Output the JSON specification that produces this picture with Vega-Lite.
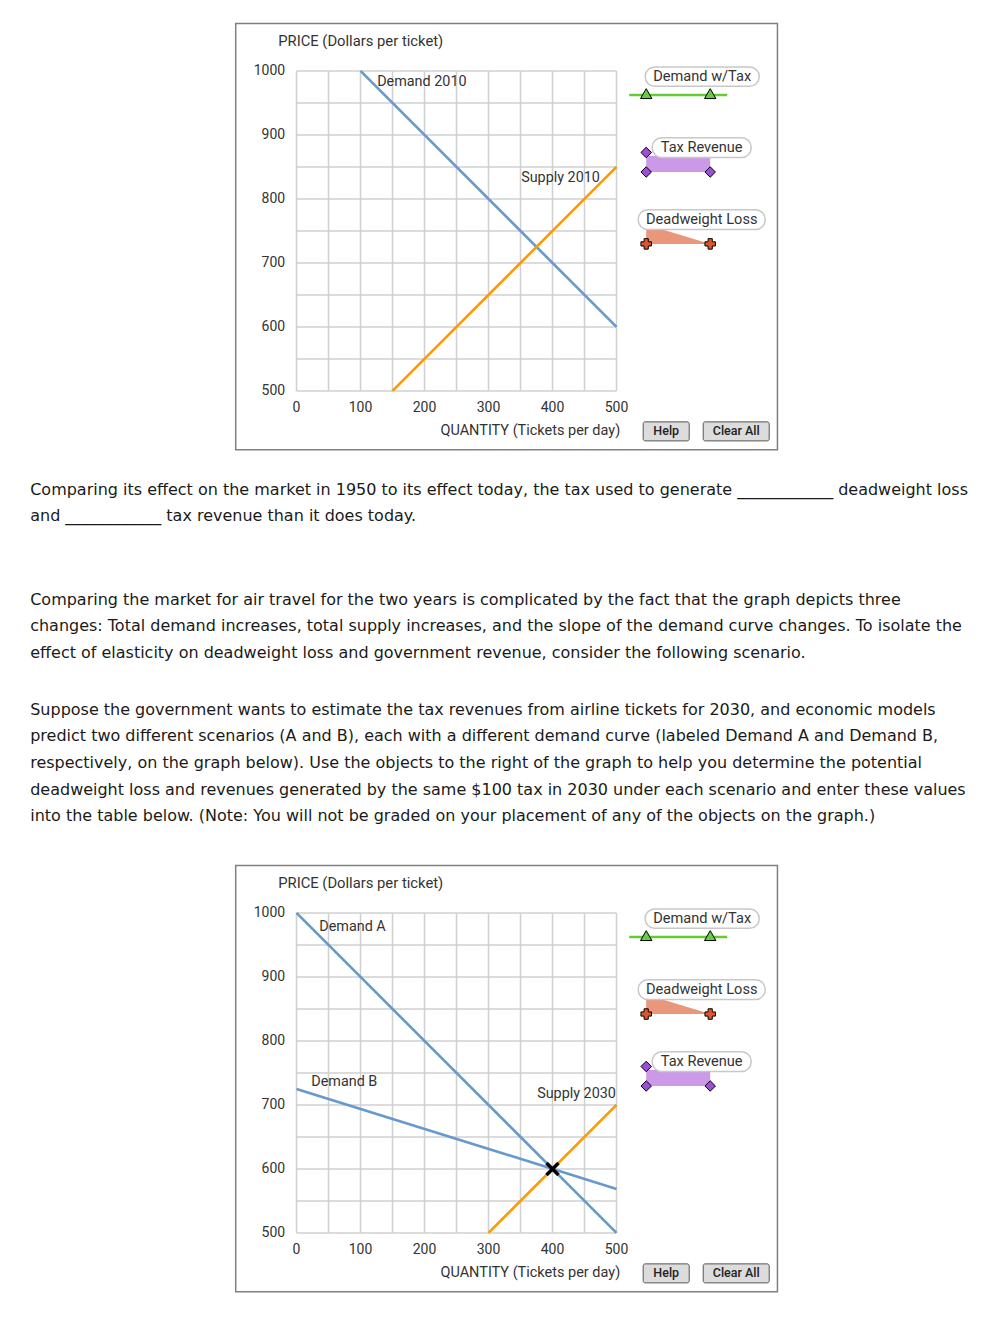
{
  "$schema": "https://vega.github.io/schema/vega-lite/v6.json",
  "background": "white",
  "padding": {"left": 30, "top": 21.9, "right": 0, "bottom": 0},
  "bounds": "flush",
  "center": true,
  "spacing": 86,
  "config": {"view": {"stroke": null}},
  "datasets": {
    "qgrid": [{"q": 0}, {"q": 50}, {"q": 100}, {"q": 150}, {"q": 200}, {"q": 250}, {"q": 300}, {"q": 350}, {"q": 400}, {"q": 450}, {"q": 500}],
    "pgrid": [{"price": 500}, {"price": 550}, {"price": 600}, {"price": 650}, {"price": 700}, {"price": 750}, {"price": 800}, {"price": 850}, {"price": 900}, {"price": 950}, {"price": 1000}],
    "qticks": [{"q": 0}, {"q": 100}, {"q": 200}, {"q": 300}, {"q": 400}, {"q": 500}],
    "pticks": [{"price": 500}, {"price": 600}, {"price": 700}, {"price": 800}, {"price": 900}, {"price": 1000}]
  },
  "vconcat": [
    {
      "width": 320,
      "height": 320,
      "data": {"values": [{}]},
      "layer": [
        {"mark": {"type": "rect", "fillOpacity": 0, "stroke": "#808080", "strokeWidth": 1.5},
         "encoding": {"x": {"datum": -95, "axis": null}, "x2": {"datum": 751.5}, "y": {"datum": 1074, "axis": null}, "y2": {"datum": 408}}},
        {"data": {"name": "qgrid"}, "mark": {"type": "rule", "color": "#d0d0d0", "strokeWidth": 1.5},
         "encoding": {"x": {"field": "q", "type": "quantitative", "axis": null}, "y": {"datum": 500, "axis": null}, "y2": {"datum": 1000}}},
        {"data": {"name": "pgrid"}, "mark": {"type": "rule", "color": "#d0d0d0", "strokeWidth": 1.5},
         "encoding": {"y": {"field": "price", "type": "quantitative", "axis": null}, "x": {"datum": 0, "axis": null}, "x2": {"datum": 500}}},
        {"data": {"name": "qticks"}, "mark": {"type": "text", "align": "center", "baseline": "middle", "font": "Roboto", "fontSize": 14, "color": "#333"},
         "encoding": {"x": {"field": "q", "type": "quantitative", "axis": null}, "y": {"datum": 473.4, "axis": null}, "text": {"field": "q", "type": "quantitative", "format": "d"}}},
        {"data": {"name": "pticks"}, "mark": {"type": "text", "align": "right", "baseline": "middle", "font": "Roboto", "fontSize": 14, "color": "#333"},
         "encoding": {"y": {"field": "price", "type": "quantitative", "axis": null}, "x": {"datum": -17.7, "axis": null}, "text": {"field": "price", "type": "quantitative", "format": "d"}}},
        {"mark": {"type": "text", "align": "left", "baseline": "middle", "font": "Roboto", "fontSize": 14.8, "color": "#333"},
         "encoding": {"x": {"datum": -28.6, "axis": null}, "y": {"datum": 1045.3, "axis": null}, "text": {"value": "PRICE (Dollars per ticket)"}}},
        {"mark": {"type": "text", "align": "right", "baseline": "middle", "font": "Roboto", "fontSize": 14.5, "color": "#333"},
         "encoding": {"x": {"datum": 505.8, "axis": null}, "y": {"datum": 437.5, "axis": null}, "text": {"value": "QUANTITY (Tickets per day)"}}},
        {"data": {"values": [
          {"series": "Demand 2010", "curve": "Demand", "q": 100, "price": 1000},
          {"series": "Demand 2010", "curve": "Demand", "q": 500, "price": 600},
          {"series": "Supply 2010", "curve": "Supply", "q": 150, "price": 500},
          {"series": "Supply 2010", "curve": "Supply", "q": 500, "price": 850}
        ]},
         "mark": {"type": "line", "strokeWidth": 2.6},
         "encoding": {
           "x": {"field": "q", "type": "quantitative", "scale": {"domain": [0, 500], "nice": false, "zero": false}, "axis": null},
           "y": {"field": "price", "type": "quantitative", "scale": {"domain": [500, 1000], "nice": false, "zero": false}, "axis": null},
           "color": {"field": "curve", "type": "nominal", "scale": {"domain": ["Demand", "Supply"], "range": ["#6699cc", "#ff9900"]}, "legend": null},
           "detail": {"field": "series"}
         }},
        {"mark": {"type": "text", "align": "left", "baseline": "middle", "font": "Roboto", "fontSize": 14.4, "color": "#333"},
         "encoding": {"x": {"datum": 126, "axis": null}, "y": {"datum": 982.8, "axis": null}, "text": {"value": "Demand 2010"}}},
        {"mark": {"type": "text", "align": "left", "baseline": "middle", "font": "Roboto", "fontSize": 14.4, "color": "#333"},
         "encoding": {"x": {"datum": 351, "axis": null}, "y": {"datum": 832.8, "axis": null}, "text": {"value": "Supply 2010"}}},

        {"mark": {"type": "rule", "color": "#66cc33", "strokeWidth": 2.5},
         "encoding": {"x": {"datum": 519.8, "axis": null}, "x2": {"datum": 673}, "y": {"datum": 962.5, "axis": null}}},
        {"mark": {"type": "rect", "fill": "white", "stroke": "#c8c8c8", "strokeWidth": 1.5, "cornerRadius": 9.5},
         "encoding": {"x": {"datum": 544.8, "axis": null}, "x2": {"datum": 723}, "y": {"datum": 1006, "axis": null}, "y2": {"datum": 976}}},
        {"mark": {"type": "text", "align": "center", "baseline": "middle", "font": "Roboto", "fontSize": 14.6, "color": "#333"},
         "encoding": {"x": {"datum": 633.9, "axis": null}, "y": {"datum": 991, "axis": null}, "text": {"value": "Demand w/Tax"}}},
        {"mark": {"type": "point", "shape": "triangle-up", "size": 130, "filled": true, "fill": "#66cc44", "stroke": "#000", "strokeWidth": 1, "opacity": 1},
         "encoding": {"x": {"datum": 546.4, "axis": null}, "y": {"datum": 964.5, "axis": null}}},
        {"mark": {"type": "point", "shape": "triangle-up", "size": 130, "filled": true, "fill": "#66cc44", "stroke": "#000", "strokeWidth": 1, "opacity": 1},
         "encoding": {"x": {"datum": 646.4, "axis": null}, "y": {"datum": 964.5, "axis": null}}},

        {"mark": {"type": "rect", "fill": "#cc99e8"},
         "encoding": {"x": {"datum": 546.4, "axis": null}, "x2": {"datum": 646.4}, "y": {"datum": 867, "axis": null}, "y2": {"datum": 842}}},
        {"mark": {"type": "rect", "fill": "white", "stroke": "#c8c8c8", "strokeWidth": 1.5, "cornerRadius": 9.5},
         "encoding": {"x": {"datum": 555.8, "axis": null}, "x2": {"datum": 710.5}, "y": {"datum": 895.5, "axis": null}, "y2": {"datum": 864.5}}},
        {"mark": {"type": "text", "align": "center", "baseline": "middle", "font": "Roboto", "fontSize": 14.6, "color": "#333"},
         "encoding": {"x": {"datum": 633.1, "axis": null}, "y": {"datum": 880, "axis": null}, "text": {"value": "Tax Revenue"}}},
        {"mark": {"type": "point", "shape": "diamond", "size": 110, "filled": true, "fill": "#9c4fd6", "stroke": "#000", "strokeWidth": 1, "opacity": 1},
         "encoding": {"x": {"datum": 546.4, "axis": null}, "y": {"datum": 872.5, "axis": null}}},
        {"mark": {"type": "point", "shape": "diamond", "size": 110, "filled": true, "fill": "#9c4fd6", "stroke": "#000", "strokeWidth": 1, "opacity": 1},
         "encoding": {"x": {"datum": 546.4, "axis": null}, "y": {"datum": 842, "axis": null}}},
        {"mark": {"type": "point", "shape": "diamond", "size": 110, "filled": true, "fill": "#9c4fd6", "stroke": "#000", "strokeWidth": 1, "opacity": 1},
         "encoding": {"x": {"datum": 646.4, "axis": null}, "y": {"datum": 842, "axis": null}}},

        {"mark": {"type": "point", "shape": "M-1,-0.21875L-0.4375,-0.21875L1,0.21875L-1,0.21875Z", "size": 4096, "filled": true, "fill": "#e9967a", "strokeWidth": 0, "opacity": 1},
         "encoding": {"x": {"datum": 596.4, "axis": null}, "y": {"datum": 740.6, "axis": null}}},
        {"mark": {"type": "rect", "fill": "white", "stroke": "#c8c8c8", "strokeWidth": 1.5, "cornerRadius": 9.5},
         "encoding": {"x": {"datum": 533.9, "axis": null}, "x2": {"datum": 732.3}, "y": {"datum": 783, "axis": null}, "y2": {"datum": 752}}},
        {"mark": {"type": "text", "align": "center", "baseline": "middle", "font": "Roboto", "fontSize": 14.6, "color": "#333"},
         "encoding": {"x": {"datum": 633.1, "axis": null}, "y": {"datum": 767.5, "axis": null}, "text": {"value": "Deadweight Loss"}}},
        {"mark": {"type": "point", "shape": "cross", "size": 110, "filled": true, "fill": "#e0552b", "stroke": "#000", "strokeWidth": 1, "opacity": 1},
         "encoding": {"x": {"datum": 546.4, "axis": null}, "y": {"datum": 729.7, "axis": null}}},
        {"mark": {"type": "point", "shape": "cross", "size": 110, "filled": true, "fill": "#e0552b", "stroke": "#000", "strokeWidth": 1, "opacity": 1},
         "encoding": {"x": {"datum": 646.4, "axis": null}, "y": {"datum": 729.7, "axis": null}}},

        {"mark": {"type": "rect", "fill": "#dcdcdc", "stroke": "#555", "strokeWidth": 1, "cornerRadius": 2},
         "encoding": {"x": {"datum": 541.7, "axis": null}, "x2": {"datum": 613.6}, "y": {"datum": 451.6, "axis": null}, "y2": {"datum": 421.9}}},
        {"mark": {"type": "text", "align": "center", "baseline": "middle", "font": "Roboto", "fontSize": 12.5, "fontWeight": 500, "color": "#222"},
         "encoding": {"x": {"datum": 577.7, "axis": null}, "y": {"datum": 436.7, "axis": null}, "text": {"value": "Help"}}},
        {"mark": {"type": "rect", "fill": "#dcdcdc", "stroke": "#555", "strokeWidth": 1, "cornerRadius": 2},
         "encoding": {"x": {"datum": 635.5, "axis": null}, "x2": {"datum": 738.6}, "y": {"datum": 451.6, "axis": null}, "y2": {"datum": 421.9}}},
        {"mark": {"type": "text", "align": "center", "baseline": "middle", "font": "Roboto", "fontSize": 12.5, "fontWeight": 500, "color": "#222"},
         "encoding": {"x": {"datum": 687, "axis": null}, "y": {"datum": 436.7, "axis": null}, "text": {"value": "Clear All"}}}
      ]
    },
    {
      "width": 852.6,
      "height": 349.25,
      "data": {"values": [
        {"para": 0, "text": "Comparing its effect on the market in 1950 to its effect today, the tax used to generate ____________ deadweight loss\nand ____________ tax revenue than it does today."},
        {"para": 1, "text": "Comparing the market for air travel for the two years is complicated by the fact that the graph depicts three\nchanges: Total demand increases, total supply increases, and the slope of the demand curve changes. To isolate the\neffect of elasticity on deadweight loss and government revenue, consider the following scenario."},
        {"para": 2, "text": "Suppose the government wants to estimate the tax revenues from airline tickets for 2030, and economic models\npredict two different scenarios (A and B), each with a different demand curve (labeled Demand A and Demand B,\nrespectively, on the graph below). Use the objects to the right of the graph to help you determine the potential\ndeadweight loss and revenues generated by the same $100 tax in 2030 under each scenario and enter these values\ninto the table below. (Note: You will not be graded on your placement of any of the objects on the graph.)"}
      ]},
      "mark": {"type": "text", "align": "left", "baseline": "alphabetic", "lineBreak": "\n", "lineHeight": 26.6, "font": "DejaVu Sans", "fontSize": 16, "color": "#1a1a1a"},
      "encoding": {
        "x": {"datum": 0, "type": "quantitative", "scale": {"domain": [0, 1]}, "axis": null},
        "y": {"field": "para", "type": "quantitative", "scale": {"domain": [-0.1636, 3.0114], "reverse": true, "nice": false, "zero": false}, "axis": null},
        "text": {"field": "text", "type": "nominal"}
      }
    },
    {
      "width": 320,
      "height": 320,
      "data": {"values": [{}]},
      "layer": [
        {"mark": {"type": "rect", "fillOpacity": 0, "stroke": "#808080", "strokeWidth": 1.5},
         "encoding": {"x": {"datum": -95, "axis": null}, "x2": {"datum": 751.5}, "y": {"datum": 1074, "axis": null}, "y2": {"datum": 408}}},
        {"data": {"name": "qgrid"}, "mark": {"type": "rule", "color": "#d0d0d0", "strokeWidth": 1.5},
         "encoding": {"x": {"field": "q", "type": "quantitative", "axis": null}, "y": {"datum": 500, "axis": null}, "y2": {"datum": 1000}}},
        {"data": {"name": "pgrid"}, "mark": {"type": "rule", "color": "#d0d0d0", "strokeWidth": 1.5},
         "encoding": {"y": {"field": "price", "type": "quantitative", "axis": null}, "x": {"datum": 0, "axis": null}, "x2": {"datum": 500}}},
        {"data": {"name": "qticks"}, "mark": {"type": "text", "align": "center", "baseline": "middle", "font": "Roboto", "fontSize": 14, "color": "#333"},
         "encoding": {"x": {"field": "q", "type": "quantitative", "axis": null}, "y": {"datum": 473.4, "axis": null}, "text": {"field": "q", "type": "quantitative", "format": "d"}}},
        {"data": {"name": "pticks"}, "mark": {"type": "text", "align": "right", "baseline": "middle", "font": "Roboto", "fontSize": 14, "color": "#333"},
         "encoding": {"y": {"field": "price", "type": "quantitative", "axis": null}, "x": {"datum": -17.7, "axis": null}, "text": {"field": "price", "type": "quantitative", "format": "d"}}},
        {"mark": {"type": "text", "align": "left", "baseline": "middle", "font": "Roboto", "fontSize": 14.8, "color": "#333"},
         "encoding": {"x": {"datum": -28.6, "axis": null}, "y": {"datum": 1045.3, "axis": null}, "text": {"value": "PRICE (Dollars per ticket)"}}},
        {"mark": {"type": "text", "align": "right", "baseline": "middle", "font": "Roboto", "fontSize": 14.5, "color": "#333"},
         "encoding": {"x": {"datum": 505.8, "axis": null}, "y": {"datum": 437.5, "axis": null}, "text": {"value": "QUANTITY (Tickets per day)"}}},
        {"data": {"values": [
          {"series": "Demand A", "curve": "Demand", "q": 0, "price": 1000},
          {"series": "Demand A", "curve": "Demand", "q": 500, "price": 500},
          {"series": "Demand B", "curve": "Demand", "q": 0, "price": 725},
          {"series": "Demand B", "curve": "Demand", "q": 500, "price": 568.75},
          {"series": "Supply 2030", "curve": "Supply", "q": 300, "price": 500},
          {"series": "Supply 2030", "curve": "Supply", "q": 500, "price": 700}
        ]},
         "mark": {"type": "line", "strokeWidth": 2.6},
         "encoding": {
           "x": {"field": "q", "type": "quantitative", "scale": {"domain": [0, 500], "nice": false, "zero": false}, "axis": null},
           "y": {"field": "price", "type": "quantitative", "scale": {"domain": [500, 1000], "nice": false, "zero": false}, "axis": null},
           "color": {"field": "curve", "type": "nominal", "scale": {"domain": ["Demand", "Supply"], "range": ["#6699cc", "#ff9900"]}, "legend": null},
           "detail": {"field": "series"}
         }},
        {"mark": {"type": "text", "align": "left", "baseline": "middle", "font": "Roboto", "fontSize": 14.4, "color": "#333"},
         "encoding": {"x": {"datum": 35.5, "axis": null}, "y": {"datum": 978.6, "axis": null}, "text": {"value": "Demand A"}}},
        {"mark": {"type": "text", "align": "left", "baseline": "middle", "font": "Roboto", "fontSize": 14.4, "color": "#333"},
         "encoding": {"x": {"datum": 23, "axis": null}, "y": {"datum": 735.5, "axis": null}, "text": {"value": "Demand B"}}},
        {"mark": {"type": "text", "align": "left", "baseline": "middle", "font": "Roboto", "fontSize": 14.4, "color": "#333"},
         "encoding": {"x": {"datum": 376, "axis": null}, "y": {"datum": 716.5, "axis": null}, "text": {"value": "Supply 2030"}}},
        {"mark": {"type": "point", "shape": "M-1,-1L1,1M-1,1L1,-1", "size": 144, "filled": false, "stroke": "#000", "strokeWidth": 3.5, "opacity": 1},
         "encoding": {"x": {"datum": 400, "axis": null}, "y": {"datum": 600, "axis": null}}},

        {"mark": {"type": "rule", "color": "#66cc33", "strokeWidth": 2.5},
         "encoding": {"x": {"datum": 519.8, "axis": null}, "x2": {"datum": 673}, "y": {"datum": 962.5, "axis": null}}},
        {"mark": {"type": "rect", "fill": "white", "stroke": "#c8c8c8", "strokeWidth": 1.5, "cornerRadius": 9.5},
         "encoding": {"x": {"datum": 544.8, "axis": null}, "x2": {"datum": 723}, "y": {"datum": 1006, "axis": null}, "y2": {"datum": 976}}},
        {"mark": {"type": "text", "align": "center", "baseline": "middle", "font": "Roboto", "fontSize": 14.6, "color": "#333"},
         "encoding": {"x": {"datum": 633.9, "axis": null}, "y": {"datum": 991, "axis": null}, "text": {"value": "Demand w/Tax"}}},
        {"mark": {"type": "point", "shape": "triangle-up", "size": 130, "filled": true, "fill": "#66cc44", "stroke": "#000", "strokeWidth": 1, "opacity": 1},
         "encoding": {"x": {"datum": 546.4, "axis": null}, "y": {"datum": 964.5, "axis": null}}},
        {"mark": {"type": "point", "shape": "triangle-up", "size": 130, "filled": true, "fill": "#66cc44", "stroke": "#000", "strokeWidth": 1, "opacity": 1},
         "encoding": {"x": {"datum": 646.4, "axis": null}, "y": {"datum": 964.5, "axis": null}}},

        {"mark": {"type": "point", "shape": "M-1,-0.21875L-0.4375,-0.21875L1,0.21875L-1,0.21875Z", "size": 4096, "filled": true, "fill": "#e9967a", "strokeWidth": 0, "opacity": 1},
         "encoding": {"x": {"datum": 596.4, "axis": null}, "y": {"datum": 852.8, "axis": null}}},
        {"mark": {"type": "rect", "fill": "white", "stroke": "#c8c8c8", "strokeWidth": 1.5, "cornerRadius": 9.5},
         "encoding": {"x": {"datum": 533.9, "axis": null}, "x2": {"datum": 732.3}, "y": {"datum": 895.5, "axis": null}, "y2": {"datum": 864.5}}},
        {"mark": {"type": "text", "align": "center", "baseline": "middle", "font": "Roboto", "fontSize": 14.6, "color": "#333"},
         "encoding": {"x": {"datum": 633.1, "axis": null}, "y": {"datum": 880, "axis": null}, "text": {"value": "Deadweight Loss"}}},
        {"mark": {"type": "point", "shape": "cross", "size": 110, "filled": true, "fill": "#e0552b", "stroke": "#000", "strokeWidth": 1, "opacity": 1},
         "encoding": {"x": {"datum": 546.4, "axis": null}, "y": {"datum": 842, "axis": null}}},
        {"mark": {"type": "point", "shape": "cross", "size": 110, "filled": true, "fill": "#e0552b", "stroke": "#000", "strokeWidth": 1, "opacity": 1},
         "encoding": {"x": {"datum": 646.4, "axis": null}, "y": {"datum": 842, "axis": null}}},

        {"mark": {"type": "rect", "fill": "#cc99e8"},
         "encoding": {"x": {"datum": 546.4, "axis": null}, "x2": {"datum": 646.4}, "y": {"datum": 754.5, "axis": null}, "y2": {"datum": 729.5}}},
        {"mark": {"type": "rect", "fill": "white", "stroke": "#c8c8c8", "strokeWidth": 1.5, "cornerRadius": 9.5},
         "encoding": {"x": {"datum": 555.8, "axis": null}, "x2": {"datum": 710.5}, "y": {"datum": 783, "axis": null}, "y2": {"datum": 752}}},
        {"mark": {"type": "text", "align": "center", "baseline": "middle", "font": "Roboto", "fontSize": 14.6, "color": "#333"},
         "encoding": {"x": {"datum": 633.1, "axis": null}, "y": {"datum": 767.5, "axis": null}, "text": {"value": "Tax Revenue"}}},
        {"mark": {"type": "point", "shape": "diamond", "size": 110, "filled": true, "fill": "#9c4fd6", "stroke": "#000", "strokeWidth": 1, "opacity": 1},
         "encoding": {"x": {"datum": 546.4, "axis": null}, "y": {"datum": 760, "axis": null}}},
        {"mark": {"type": "point", "shape": "diamond", "size": 110, "filled": true, "fill": "#9c4fd6", "stroke": "#000", "strokeWidth": 1, "opacity": 1},
         "encoding": {"x": {"datum": 546.4, "axis": null}, "y": {"datum": 729.5, "axis": null}}},
        {"mark": {"type": "point", "shape": "diamond", "size": 110, "filled": true, "fill": "#9c4fd6", "stroke": "#000", "strokeWidth": 1, "opacity": 1},
         "encoding": {"x": {"datum": 646.4, "axis": null}, "y": {"datum": 729.5, "axis": null}}},

        {"mark": {"type": "rect", "fill": "#dcdcdc", "stroke": "#555", "strokeWidth": 1, "cornerRadius": 2},
         "encoding": {"x": {"datum": 541.7, "axis": null}, "x2": {"datum": 613.6}, "y": {"datum": 451.6, "axis": null}, "y2": {"datum": 421.9}}},
        {"mark": {"type": "text", "align": "center", "baseline": "middle", "font": "Roboto", "fontSize": 12.5, "fontWeight": 500, "color": "#222"},
         "encoding": {"x": {"datum": 577.7, "axis": null}, "y": {"datum": 436.7, "axis": null}, "text": {"value": "Help"}}},
        {"mark": {"type": "rect", "fill": "#dcdcdc", "stroke": "#555", "strokeWidth": 1, "cornerRadius": 2},
         "encoding": {"x": {"datum": 635.5, "axis": null}, "x2": {"datum": 738.6}, "y": {"datum": 451.6, "axis": null}, "y2": {"datum": 421.9}}},
        {"mark": {"type": "text", "align": "center", "baseline": "middle", "font": "Roboto", "fontSize": 12.5, "fontWeight": 500, "color": "#222"},
         "encoding": {"x": {"datum": 687, "axis": null}, "y": {"datum": 436.7, "axis": null}, "text": {"value": "Clear All"}}}
      ]
    }
  ]
}
